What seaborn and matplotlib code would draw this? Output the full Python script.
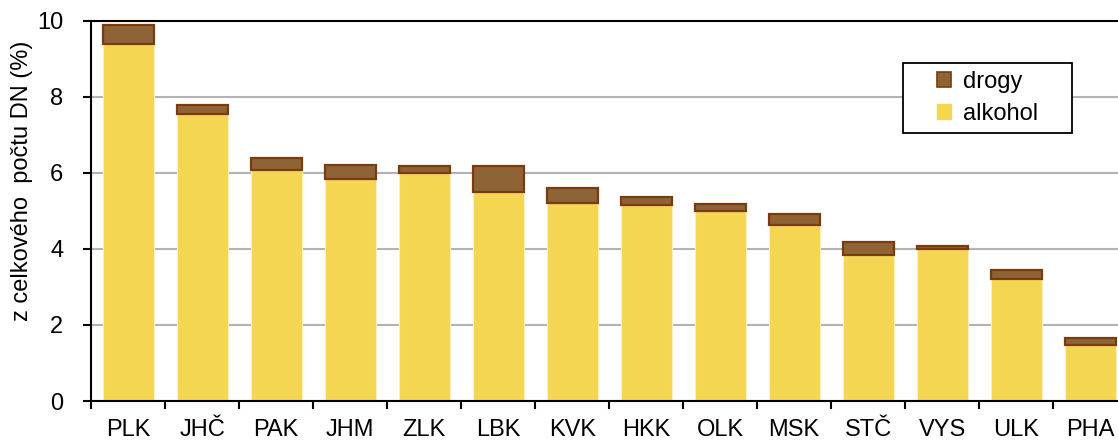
import matplotlib
matplotlib.use("Agg")
import matplotlib.pyplot as plt
from matplotlib.patches import Patch, Rectangle
import numpy as np
import pandas as pd
import seaborn as sns

# data
kraje = ['PLK', 'JHČ', 'PAK', 'JHM', 'ZLK', 'LBK', 'KVK', 'HKK', 'OLK', 'MSK', 'STČ', 'VYS', 'ULK', 'PHA']
alkohol = [9.40, 7.56, 6.08, 5.84, 5.99, 5.51, 5.20, 5.16, 5.00, 4.62, 3.84, 3.99, 3.21, 1.47]
drogy = [0.49, 0.23, 0.31, 0.37, 0.19, 0.67, 0.40, 0.21, 0.18, 0.30, 0.34, 0.09, 0.24, 0.20]

df = pd.DataFrame({'kraj': kraje, 'alkohol': alkohol, 'drogy': drogy})

YELLOW = '#F5D652'
BROWN = '#8E6335'
BROWN_EDGE = '#7A3C0C'
FS = 17

sns.set_style('white')
plt.rcParams['font.family'] = ['Liberation Sans', 'DejaVu Sans']
plt.rcParams['text.color'] = 'black'
plt.rcParams['axes.labelcolor'] = 'black'
plt.rcParams['xtick.color'] = 'black'
plt.rcParams['ytick.color'] = 'black'

fig = plt.figure(figsize=(11.18, 4.41), dpi=100)
ax = fig.add_axes([0.0815, 0.0907, 0.9267, 0.8617])

sns.barplot(data=df, x='kraj', y='alkohol', order=kraje, color=YELLOW, width=0.69,
            saturation=1, edgecolor='#FBEFC0', linewidth=0.8, ax=ax, zorder=3)
sns.barplot(data=df, x='kraj', y='drogy', order=kraje, color=BROWN, width=0.69,
            saturation=1, edgecolor=BROWN_EDGE, linewidth=1.6, bottom=df['alkohol'].values,
            ax=ax, zorder=3)

ax.set_xlim(-0.5, len(kraje) - 0.5)
ax.set_ylim(0, 10)
ax.set_yticks([0, 2, 4, 6, 8, 10])
ax.yaxis.grid(True, color='#B3B3B3', linewidth=1.5, zorder=0)
ax.set_axisbelow(True)

for s in ['left', 'bottom', 'top']:
    ax.spines[s].set_visible(True)
    ax.spines[s].set_color('black')
    ax.spines[s].set_linewidth(1.5)
    ax.spines[s].set_zorder(4)
ax.spines['right'].set_visible(False)

ax.set_xticks(np.arange(len(kraje)))
ax.set_xticklabels(kraje)
ax.set_xticks(np.arange(len(kraje) + 1) - 0.5, minor=True)
ax.tick_params(axis='x', which='major', length=0, pad=13, labelsize=FS)
ax.tick_params(axis='x', which='minor', length=6, width=1.5, direction='out', color='black', bottom=True)
ax.tick_params(axis='y', which='major', length=6, width=1.5, direction='out', color='black',
               left=True, pad=14, labelsize=FS)

ax.set_xlabel('')
ax.set_ylabel('z celkového  počtu DN (%)', fontsize=FS)
ax.yaxis.set_label_coords(-0.056, 0.579)

# legend box drawn separately so the inner padding can match the reference
fig.patches.append(Rectangle((0.8077, 0.6984), 0.1512, 0.1587, transform=fig.transFigure,
                             facecolor='white', edgecolor='black', linewidth=1.3, zorder=5))
handles = [Patch(facecolor=BROWN, edgecolor=BROWN_EDGE, linewidth=1.2, label='drogy'),
           Patch(facecolor=YELLOW, edgecolor=YELLOW, label='alkohol')]
leg = fig.legend(handles=handles, loc='center', bbox_to_anchor=(0.8833, 0.7778),
                 fontsize=FS, frameon=False, handlelength=0.6, handleheight=0.6,
                 handletextpad=0.5, labelspacing=0.45, borderpad=0, borderaxespad=0)
leg.set_zorder(6)

fig.savefig('out.png', dpi=100)
